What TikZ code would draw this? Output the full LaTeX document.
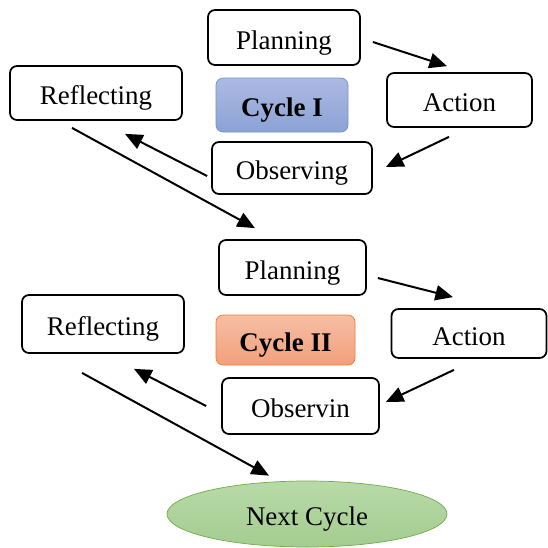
\documentclass[tikz,border=0pt]{standalone}
\usepackage{fontspec}
\setmainfont{Liberation Serif}
\usepackage{tikz}
\usetikzlibrary{arrows.meta, calc, shapes.geometric}
\definecolor{blueedge}{RGB}{114, 146, 208}
\definecolor{bluetop}{RGB}{172, 186, 226}
\definecolor{bluebot}{RGB}{140, 162, 214}
\definecolor{orangeedge}{RGB}{237, 125, 49}
\definecolor{orangetop}{RGB}{246, 190, 164}
\definecolor{orangebot}{RGB}{243, 160, 124}
\definecolor{greenedge}{RGB}{112, 173, 71}
\definecolor{greentop}{RGB}{184, 218, 168}
\definecolor{greenbot}{RGB}{164, 204, 144}

\tikzset{
  label text/.style={font=\fontsize{23}{27}\selectfont, text height=20pt, text depth=0pt},
  stage/.style 2 args={draw, line width=1.5pt, rounded corners=6pt, inner sep=0pt,
    minimum width=#1*0.03cm, minimum height=#2*0.03cm, label text},
  cyclebox/.style 2 args={draw=#1, line width=0.6pt, rounded corners=6pt, inner sep=0pt,
    label text, font=\fontsize{23}{27}\selectfont\bfseries, #2},
  flow/.style={-{Triangle[length=15pt, width=13pt]}, line width=1.7pt}
}

\begin{document}
\begin{tikzpicture}[x=0.03cm, y=-0.03cm]

  \useasboundingbox (0, 0) rectangle (547, 548);

  % first cycle
  \node[stage={152}{55}] (plan1) at (284, 37.5) {Planning};
  \node[stage={145}{54}] (act1) at (459.5, 100) {Action};
  \node[stage={160}{52}] (obs1) at (292, 168) {Observing};
  \node[stage={172}{54}] (refl1) at (96, 93) {Reflecting};
  \node[cyclebox={blueedge}{top color=bluetop, bottom color=bluebot},
    minimum width=132*0.03cm, minimum height=54*0.03cm] (cyc1) at (282, 105) {Cycle I};

  % second cycle
  \node[stage={147}{55}] (plan2) at (292.5, 267.5) {Planning};
  \node[stage={155}{49}] (act2) at (469, 333.5) {Action};
  \node[stage={157}{56}] (obs2) at (300.5, 406) {Observin};
  \node[stage={162}{58}] (refl2) at (103, 324) {Reflecting};
  \node[cyclebox={orangeedge}{top color=orangetop, bottom color=orangebot},
    minimum width=139*0.03cm, minimum height=50*0.03cm] (cyc2) at (285.5, 340) {Cycle II};

  \node[ellipse, draw=greenedge, line width=0.6pt, top color=greentop, bottom color=greenbot,
    minimum width=280*0.03cm, minimum height=66*0.03cm, inner sep=0pt,
    label text] (next) at (307, 514) {Next Cycle};

  \draw[flow] ($(plan1.east)+(12, 4.5)$) -- ($(act1.north)+(-12.5, -6)$);
  \draw[flow] ($(act1.south)+(-10.5, 9)$) -- ($(obs1.east)+(13, -1)$);
  \draw[flow] ($(obs1.west)+(-4, 8)$) -- ($(refl1.south)+(29, 13)$);
  \draw[flow] ($(refl1.south)+(-24, 7)$) -- ($(plan2.north)+(-37.5, -11)$);

  \draw[flow] ($(plan2.east)+(11, 10.5)$) -- ($(act2.north)+(-16, -11)$);
  \draw[flow] ($(act2.south)+(-15, 11)$) -- ($(obs2.east)+(6, -4)$);
  \draw[flow] ($(obs2.west)+(-15, 0)$) -- ($(refl2.south)+(31, 15)$);
  \draw[flow] ($(refl2.south)+(-21, 19)$) -- ($(next.north)+(-38, -5)$);

\end{tikzpicture}
\end{document}
